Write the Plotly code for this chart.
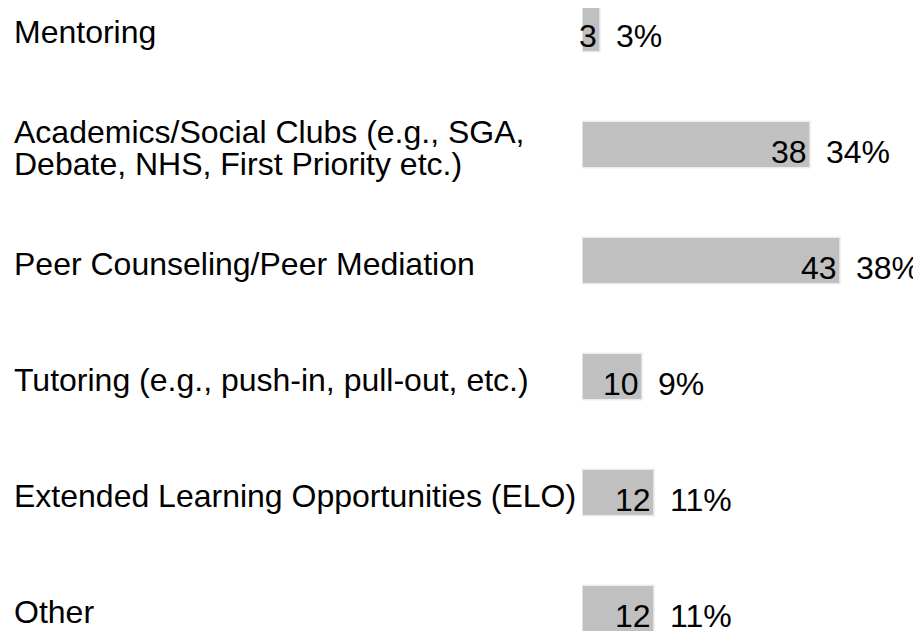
import plotly.graph_objects as go

categories = [
    "Mentoring",
    "Academics/Social Clubs (e.g., SGA,\nDebate, NHS, First Priority etc.)",
    "Peer Counseling/Peer Mediation",
    "Tutoring (e.g., push-in, pull-out, etc.)",
    "Extended Learning Opportunities (ELO)",
    "Other",
]
counts = [3, 38, 43, 10, 12, 12]
percents = ["3%", "34%", "38%", "9%", "11%", "11%"]

FONT = "Liberation Sans, Arial, sans-serif"
FS = 32
PAGE_OFF = 8            # default body margin of the html page
W, H = 921 - PAGE_OFF, 631 - PAGE_OFF
L = 582 - PAGE_OFF
PX_PER_UNIT = 6.0
ROW = 116.0
FIRST_CENTER = 28.5 - PAGE_OFF
LABEL_X = 12 - PAGE_OFF

ykeys = [f"r{i}" for i in range(len(categories))]

fig = go.Figure(
    go.Bar(
        x=counts,
        y=ykeys,
        orientation="h",
        width=0.4,
        marker=dict(color="#c0c0c0", line=dict(color="#ececec", width=1.5)),
        hoverinfo="skip",
    )
)

annotations = []
for key, cat, n, p in zip(ykeys, categories, counts, percents):
    lines = cat.split("\n")
    nl = len(lines)
    for j, line in enumerate(lines):
        off = (j - (nl - 1) / 2) * 32
        annotations.append(dict(
            x=(LABEL_X - L) / (W - L), xref="paper", y=key, yref="y",
            text=line, showarrow=False, xanchor="left", yanchor="middle",
            yshift=-3 - off, font=dict(family=FONT, size=FS, color="#000"),
        ))
    annotations.append(dict(
        x=n, xref="x", y=key, yref="y", text=str(n), showarrow=False,
        xanchor="right", yanchor="middle", xshift=-1, yshift=-7,
        font=dict(family=FONT, size=FS, color="#000"),
    ))
    annotations.append(dict(
        x=n, xref="x", y=key, yref="y", text=p, showarrow=False,
        xanchor="left", yanchor="middle", xshift=14, yshift=-7,
        font=dict(family=FONT, size=FS, color="#000"),
    ))

span = H / ROW
top = -FIRST_CENTER / ROW
fig.update_layout(
    width=W, height=H,
    margin=dict(l=L, r=0, t=0, b=0),
    paper_bgcolor="white", plot_bgcolor="white",
    showlegend=False,
    xaxis=dict(range=[0, (W - L) / PX_PER_UNIT], visible=False, fixedrange=True),
    yaxis=dict(range=[top + span, top], visible=False, type="category",
               categoryorder="array", categoryarray=ykeys, fixedrange=True),
    annotations=annotations,
)
fig.write_html("out.html")
